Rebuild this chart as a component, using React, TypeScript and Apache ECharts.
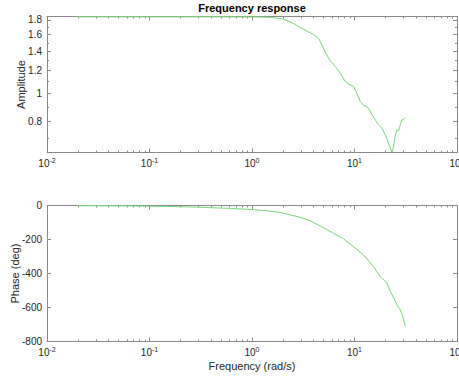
import React, { useEffect, useRef } from 'react';
import * as echarts from 'echarts';

// Amplitude response (rad/s, gain)
const ampFreq = [0.0196, 0.05, 0.1, 0.2, 0.5, 1.0, 1.2, 1.5, 2.03, 2.55, 3.19, 3.99, 4.47, 4.82, 5.19, 5.81, 6.5, 7.27, 8.13, 8.76, 9.8, 10.58, 11.39, 12.27, 13.73, 14.82, 15.95, 17.18, 18.55, 19.98, 21.51, 23.22, 24.07, 25.0, 25.98, 26.93, 27.98, 29.06, 30.13, 31.3];
const ampValues = [1.845, 1.845, 1.845, 1.845, 1.845, 1.843, 1.842, 1.838, 1.811, 1.748, 1.671, 1.601, 1.551, 1.471, 1.389, 1.298, 1.242, 1.177, 1.1, 1.078, 1.057, 1.003, 0.938, 0.914, 0.89, 0.844, 0.811, 0.779, 0.759, 0.719, 0.673, 0.625, 0.655, 0.719, 0.749, 0.743, 0.779, 0.811, 0.817, 0.822];

// Phase response (rad/s, degrees)
const phaseFreq = [0.0196, 0.05, 0.1, 0.2, 0.3, 0.614, 1.0, 1.5, 1.85, 2.36, 2.96, 3.71, 4.64, 5.3, 6.25, 7.83, 9.8, 12.27, 15.36, 17.85, 19.5, 20.75, 22.36, 24.0, 25.98, 27.98, 29.5, 31.3];
const phaseValues = [-1, -2, -4, -7, -10, -17, -24, -33, -40, -55, -70, -90, -121, -140, -164, -196, -243, -291, -360, -419, -440, -458, -505, -540, -585, -614, -650, -712];

// Axes
const freqRange = [0.01, 100];
const xMajorTicks = [0.01, 0.1, 1, 10, 100];
const xMinorTicks = [0.02, 0.03, 0.04, 0.05, 0.06, 0.07, 0.08, 0.09, 0.2, 0.3, 0.4, 0.5, 0.6, 0.7, 0.8, 0.9, 2, 3, 4, 5, 6, 7, 8, 9, 20, 30, 40, 50, 60, 70, 80, 90];
const ampRange = [0.625, 1.85];
const ampMajorTicks = [0.8, 1, 1.2, 1.4, 1.6, 1.8];
const ampMinorTicks = [0.7, 0.9, 1.1, 1.3, 1.5, 1.7];
const phaseRange = [-800, 0];
const phaseTicks = [-800, -600, -400, -200, 0];

const titleText = 'Frequency response';
const ampLabel = 'Amplitude';
const phaseLabel = 'Phase (deg)';
const freqLabel = 'Frequency (rad/s)';

const FONT = '"Liberation Sans", Arial, Helvetica, sans-serif';
const AXIS_COLOR = '#8a8a8a';
const TEXT_COLOR = '#262626';
const LINE_COLOR = '#79d879';

const expFormatter = (v: number) => {
  const e = Math.round(Math.log10(v));
  return `{b|10}{s|${e}}`;
};

const richLabel = {
  b: { fontSize: 10, fontFamily: FONT, color: TEXT_COLOR, lineHeight: 14 },
  s: { fontSize: 7, fontFamily: FONT, color: TEXT_COLOR, verticalAlign: 'top', lineHeight: 8 },
};

function makeX(gridIndex: number, position: 'top' | 'bottom', ticks: number[], len: number, extra: any = {}) {
  return {
    type: 'log',
    logBase: 10,
    gridIndex,
    position,
    min: freqRange[0],
    max: freqRange[1],
    axisLine: { show: false, onZero: false, lineStyle: { color: AXIS_COLOR, width: 1 } },
    axisTick: { show: true, inside: true, length: len, customValues: ticks, lineStyle: { color: AXIS_COLOR, width: 1 } },
    axisLabel: { show: false },
    splitLine: { show: false },
    minorTick: { show: false },
    ...extra,
  };
}

function makeY(gridIndex: number, position: 'left' | 'right', type: string, range: number[], ticks: number[], len: number, extra: any = {}) {
  return {
    type,
    gridIndex,
    position,
    min: range[0],
    max: range[1],
    ...(type === 'log' ? { logBase: 10 } : {}),
    axisLine: { show: false, onZero: false, lineStyle: { color: AXIS_COLOR, width: 1 } },
    axisTick: { show: true, inside: true, length: len, customValues: ticks, lineStyle: { color: AXIS_COLOR, width: 1 } },
    axisLabel: { show: false },
    splitLine: { show: false },
    minorTick: { show: false },
    ...extra,
  };
}

const xLabelOpt = {
  show: true,
  customValues: xMajorTicks,
  formatter: expFormatter,
  rich: richLabel,
  margin: 4,
  hideOverlap: false,
};

const lineOn = { show: true, onZero: false, lineStyle: { color: AXIS_COLOR, width: 1 } };

export default function App() {
  const ref = useRef<HTMLDivElement>(null);

  useEffect(() => {
    if (!ref.current) return;
    const chart = echarts.init(ref.current, undefined, { renderer: 'svg' });
    const option: any = {
      animation: false,
      backgroundColor: '#ffffff',
      textStyle: { fontFamily: FONT },
      grid: [
        { left: 47, right: 2, top: 16.5, height: 136, containLabel: false, outerBoundsMode: 'none' },
        { left: 47, right: 2, top: 205.5, height: 136, containLabel: false, outerBoundsMode: 'none' },
      ],
      xAxis: [
        makeX(0, 'bottom', xMajorTicks, 4, { axisLine: lineOn, axisLabel: xLabelOpt }),
        makeX(0, 'bottom', xMinorTicks, 2),
        makeX(0, 'top', xMajorTicks, 4, {
          axisLine: lineOn,
          name: titleText,
          nameLocation: 'middle',
          nameGap: 3,
          nameTextStyle: { fontSize: 11, fontWeight: 'bold', color: '#000', fontFamily: FONT },
        }),
        makeX(0, 'top', xMinorTicks, 2),
        makeX(1, 'bottom', xMajorTicks, 4, {
          axisLine: lineOn,
          axisLabel: xLabelOpt,
          name: freqLabel,
          nameLocation: 'middle',
          nameGap: 19,
          nameTextStyle: { fontSize: 11, color: TEXT_COLOR, fontFamily: FONT },
        }),
        makeX(1, 'bottom', xMinorTicks, 2),
        makeX(1, 'top', xMajorTicks, 4, { axisLine: lineOn }),
        makeX(1, 'top', xMinorTicks, 2),
      ],
      yAxis: [
        makeY(0, 'left', 'log', ampRange, ampMajorTicks, 4, {
          axisLine: lineOn,
          axisLabel: {
            show: true,
            customValues: ampMajorTicks,
            formatter: (v: number) => String(Number(v.toFixed(2))),
            fontSize: 10,
            color: TEXT_COLOR,
            fontFamily: FONT,
            margin: 5,
          },
          name: ampLabel,
          nameLocation: 'middle',
          nameGap: 21,
          nameMoveOverlap: false,
          nameTextStyle: { fontSize: 11, color: TEXT_COLOR, fontFamily: FONT },
        }),
        makeY(0, 'left', 'log', ampRange, ampMinorTicks, 2),
        makeY(0, 'right', 'log', ampRange, ampMajorTicks, 4, { axisLine: lineOn }),
        makeY(0, 'right', 'log', ampRange, ampMinorTicks, 2),
        makeY(1, 'left', 'value', phaseRange, phaseTicks, 4, {
          interval: 200,
          axisLine: lineOn,
          axisLabel: {
            show: true,
            customValues: phaseTicks,
            fontSize: 10,
            color: TEXT_COLOR,
            fontFamily: FONT,
            margin: 5,
          },
          name: phaseLabel,
          nameLocation: 'middle',
          nameGap: 27,
          nameMoveOverlap: false,
          nameTextStyle: { fontSize: 11, color: TEXT_COLOR, fontFamily: FONT },
        }),
        makeY(1, 'right', 'value', phaseRange, phaseTicks, 4, { interval: 200, axisLine: lineOn }),
      ],
      series: [
        {
          type: 'line',
          xAxisIndex: 0,
          yAxisIndex: 0,
          data: ampFreq.map((f, i) => [f, ampValues[i]]),
          showSymbol: false,
          smooth: false,
          lineStyle: { color: LINE_COLOR, width: 1 },
          itemStyle: { color: LINE_COLOR },
        },
        {
          type: 'line',
          xAxisIndex: 4,
          yAxisIndex: 4,
          data: phaseFreq.map((f, i) => [f, phaseValues[i]]),
          showSymbol: false,
          smooth: false,
          lineStyle: { color: LINE_COLOR, width: 1 },
          itemStyle: { color: LINE_COLOR },
        },
      ],
    };
    chart.setOption(option);
    return () => chart.dispose();
  }, []);

  return (
    <div
      ref={ref}
      style={{ position: 'absolute', left: 0, top: 0, width: 459, height: 376, background: '#fff' }}
    />
  );
}
